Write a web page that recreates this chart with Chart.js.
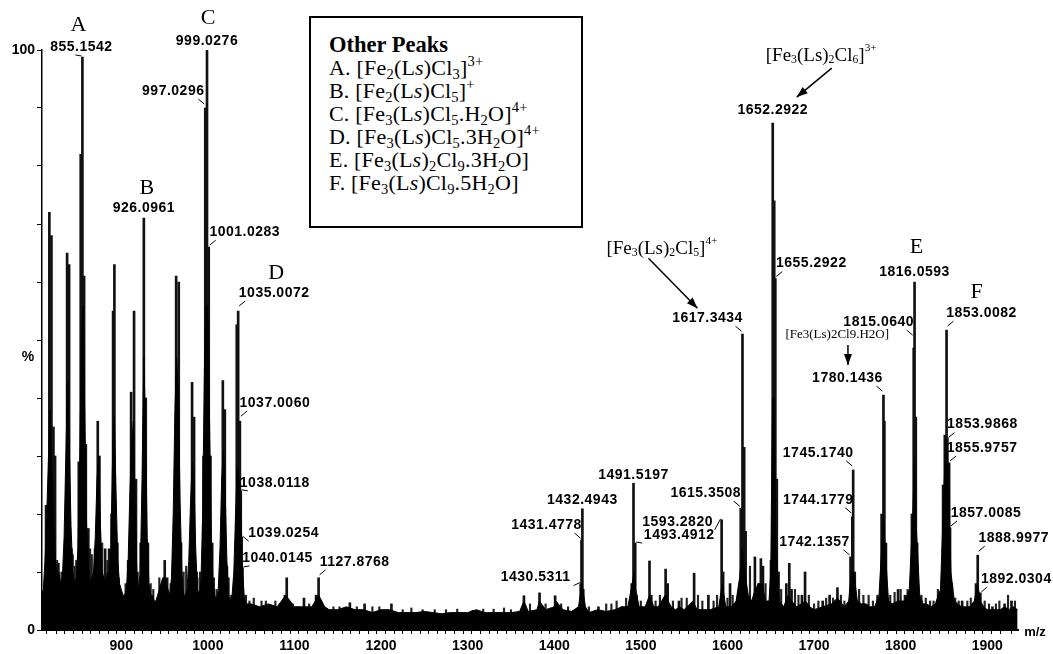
<!DOCTYPE html>
<html>
<head>
<meta charset="utf-8">
<script src="https://cdn.jsdelivr.net/npm/chart.js@4.4.1/dist/chart.umd.min.js"></script>
<style>
  html, body { margin: 0; padding: 0; background: #fff; }
  #wrap { position: relative; width: 1053px; height: 654px; }
  #legendBox {
    position: absolute; left: 309px; top: 16px; width: 274px; height: 212px;
    border: 2px solid #000; background: #fff;
    font-family: "Liberation Serif", "Times New Roman", serif; font-size: 22px;
    line-height: 23px; padding: 15px 0 0 18px; box-sizing: border-box; color: #000;
    letter-spacing: 0.2px;
  }
  #legendBox b { font-size: 22.5px; letter-spacing: 0; }
  #legendBox sub, #legendBox sup { font-size: 0.66em; line-height: 0; }
  #legendBox sub { vertical-align: -0.28em; }
  #legendBox sup { vertical-align: 0.62em; }
</style>
</head>
<body>
<div id="wrap">
  <canvas id="chart" width="1053" height="654"></canvas>
  <div id="legendBox">
    <b>Other Peaks</b><br>
    A. [Fe<sub>2</sub>(L<i>s</i>)Cl<sub>3</sub>]<sup>3+</sup><br>
    B. [Fe<sub>2</sub>(L<i>s</i>)Cl<sub>5</sub>]<sup>+</sup><br>
    C. [Fe<sub>3</sub>(L<i>s</i>)Cl<sub>5</sub>.H<sub>2</sub>O]<sup>4+</sup><br>
    D. [Fe<sub>3</sub>(L<i>s</i>)Cl<sub>5</sub>.3H<sub>2</sub>O]<sup>4+</sup><br>
    E. [Fe<sub>3</sub>(L<i>s</i>)<sub>2</sub>Cl<sub>9</sub>.3H<sub>2</sub>O]<br>
    F. [Fe<sub>3</sub>(L<i>s</i>)Cl<sub>9</sub>.5H<sub>2</sub>O]
  </div>
</div>
<script>
// m/z of the resolved peak lines and their relative intensity (%)
const peakMz = [
  813.2, 817.0, 819.4, 821.7, 823.6, 827.4,
  834.5, 837.5, 839.8, 842.5,
  851.0, 853.2, 855.1542, 857.1, 859.1, 862.0,
  869.8, 872.9, 874.8, 881.4, 886.0,
  888.9, 890.6, 892.1, 895.5,
  908.0, 911.4, 914.8, 917.0,
  922.5, 926.0961, 928.3, 930.8,
  947.0, 950.2, 953.0,
  961.0, 963.4, 966.4, 969.0,
  979.5, 981.8, 984.1, 987.0,
  995.0, 997.0296, 999.0276, 1001.0283, 1003.0, 1005.0,
  1015.0, 1017.3, 1019.6, 1022.0,
  1033.4, 1035.0072, 1037.0060, 1038.0118, 1039.0254, 1040.0145,
  1089.0, 1091.1, 1111.0, 1125.0, 1127.8768, 1130.0, 1164.0, 1181.0, 1212.0, 1306.0,
  1365.0, 1383.0, 1401.0,
  1430.5311, 1431.4778, 1432.4943, 1433.5, 1451.0, 1478.0,
  1489.5, 1491.5197, 1493.4912, 1495.0,
  1510.0, 1512.0, 1528.6, 1531.0, 1544.0, 1561.5, 1578.0,
  1593.2820, 1595.0, 1603.0,
  1615.3508, 1617.3434, 1619.3, 1621.0, 1631.7, 1636.0, 1638.6, 1641.0,
  1650.3, 1652.2922, 1654.0, 1655.2922, 1657.0, 1659.0,
  1668.0, 1671.4, 1674.0, 1686.0, 1689.6, 1710.0, 1718.0, 1727.0,
  1742.1357, 1744.1779, 1745.1740, 1747.0,
  1778.0, 1780.1436, 1781.2, 1783.0, 1797.0, 1805.0,
  1813.0, 1815.0640, 1816.0593, 1817.5, 1819.0,
  1849.0, 1851.0, 1853.0082, 1853.9868, 1855.9757, 1857.0085, 1859.0,
  1871.0, 1887.0, 1888.9977, 1892.0304, 1906.0, 1920.0, 1928.0
];
const peakPct = [
  21.5, 72, 68, 35, 30, 11.5,
  12, 65, 63, 14,
  29, 82, 98.8, 61, 32, 17.5,
  14, 36, 30, 14, 14,
  20, 55, 63, 15,
  12, 41, 55, 26,
  15, 71, 40, 15,
  8, 12, 9,
  15, 61, 60, 15,
  10, 42.7, 36.7, 10,
  30, 90, 100, 66, 30, 15,
  11, 43, 38, 11,
  52.6, 55, 36, 24, 16, 10.7,
  6, 9, 5.5, 6, 9, 5, 4.7, 4.5, 4.5, 3.4,
  5.9, 6.4, 5.9,
  8, 15.5, 20.9, 7, 4, 4,
  8, 25.3, 15, 6,
  11.9, 6, 10.5, 8, 5, 9.8, 6,
  19, 10, 8,
  21, 51, 31.5, 17, 12.6, 8, 12.3, 11,
  12, 87.4, 74, 60.6, 26, 10,
  8, 11.5, 7, 6, 10, 5, 6, 7.3,
  12.6, 19.5, 27.6, 10,
  20, 40.5, 36, 15, 7, 6,
  20, 48.6, 60, 36.7, 15,
  25, 33.6, 51.7, 33, 28.8, 17.6, 8,
  5, 8, 12.9, 6.4, 4, 4.5, 5
];

// small noise spikes over the baseline
const noiseMz = [
  826, 831, 844, 846, 848, 864, 866, 878, 884, 897, 905, 919, 934, 937, 944, 957,
  972, 975, 988, 991, 1007, 1010, 1024, 1027, 1044, 1048, 1053, 1062, 1067, 1078,
  1083, 1098, 1104, 1117, 1145, 1152, 1172, 1190, 1198, 1225, 1235, 1248, 1262,
  1275, 1288, 1318, 1330, 1342, 1350, 1372, 1390, 1408, 1416, 1440, 1460, 1466,
  1472, 1483, 1500, 1517, 1522, 1537, 1547, 1553, 1566, 1571, 1584, 1588, 1600,
  1606, 1626, 1644, 1662, 1678, 1682, 1694, 1700, 1705, 1714, 1722, 1731, 1735,
  1752, 1757, 1763, 1768, 1773, 1788, 1793, 1800, 1808, 1824, 1829, 1834, 1838,
  1843, 1863, 1867, 1877, 1881, 1897, 1902, 1910, 1914, 1924, 1932
];
const noisePct = [
  12, 10, 13, 11, 12, 14, 13, 15, 12, 9, 8, 10, 8, 7, 9, 8,
  10, 11, 9, 10, 9, 7, 9, 6, 6, 5, 5.5, 5, 5, 5,
  4.5, 4.5, 4, 4.5, 4, 4, 4, 4, 4, 3.5, 3.8, 3.5, 3.5,
  3.5, 3.6, 3.6, 3.6, 3.8, 3.5, 4.5, 4.5, 4.5, 4, 4, 4.5, 4.5,
  5, 5.5, 5, 5, 6, 5, 5.5, 5.5, 6, 5, 5, 6, 5.5,
  6, 11, 8, 7, 7, 6, 6, 4.5, 5, 5.5, 5.5, 6, 5,
  7, 6, 6, 5, 6, 6, 6.5, 7, 7, 6, 5.5, 5, 5,
  7, 5.5, 5, 5, 5.5, 5, 4.5, 4.5, 5, 6, 5
];

// filled envelope of the unresolved signal
const envMz = [
  808, 810, 812, 814, 816, 818, 820, 822, 824, 826, 828, 830, 832, 834, 836, 838, 840, 842, 844, 846,
  848, 850, 852, 854, 856, 858, 860, 862, 864, 866, 868, 870, 872, 874, 876, 878, 880, 882, 884, 886,
  888, 890, 892, 894, 896, 898, 900, 902, 904, 906, 908, 910, 912, 914, 916, 918, 920, 922, 924, 926,
  928, 930, 932, 934, 936, 938, 940, 942, 944, 946, 948, 950, 952, 954, 956, 958, 960, 962, 964, 966,
  968, 970, 972, 974, 976, 978, 980, 982, 984, 986, 988, 990, 992, 994, 996, 998, 1000, 1002, 1004, 1006,
  1008, 1010, 1012, 1014, 1016, 1018, 1020, 1022, 1024, 1026, 1028, 1030, 1032, 1034, 1036, 1038, 1040, 1042, 1044,
  1050, 1060, 1070, 1080, 1090, 1100, 1110, 1120, 1128, 1135, 1140, 1150, 1160, 1170, 1180, 1190, 1200,
  1210, 1220, 1230, 1240, 1250, 1260, 1270, 1280, 1290, 1300, 1310, 1320, 1330, 1340, 1350, 1360, 1365,
  1370, 1380, 1383, 1390, 1400, 1402, 1410, 1420, 1428, 1432, 1436, 1440, 1450, 1460, 1470, 1478, 1485,
  1490, 1492, 1494, 1498, 1505, 1510, 1515, 1520, 1528, 1535, 1540, 1545, 1550, 1560, 1565, 1570, 1580,
  1590, 1594, 1598, 1605, 1610, 1614, 1617, 1620, 1624, 1628, 1632, 1636, 1640, 1644, 1648, 1650, 1652,
  1654, 1656, 1660, 1665, 1670, 1674, 1680, 1690, 1695, 1700, 1710, 1720, 1727, 1735, 1740, 1743, 1746,
  1750, 1755, 1760, 1765, 1770, 1775, 1778, 1780, 1783, 1786, 1790, 1797, 1805, 1810, 1814, 1816, 1818,
  1822, 1826, 1830, 1835, 1840, 1846, 1849, 1852, 1855, 1858, 1862, 1866, 1870, 1875, 1880, 1885, 1889,
  1892, 1896, 1900, 1905, 1910, 1915, 1920, 1925, 1930, 1935
];
const envPct = [
  6, 7, 12, 20, 30, 38, 28, 18, 12, 9, 10, 8, 9, 16, 30, 43, 32, 18, 10, 8,
  9, 14, 28, 50, 56, 36, 18, 11, 8, 9, 10, 16, 26, 30, 18, 10, 9, 8, 10, 9,
  14, 30, 37, 24, 12, 8, 7, 6, 6, 7, 12, 24, 32, 36, 22, 10, 7, 10, 26, 47,
  36, 16, 8, 6, 6, 5, 5, 6, 7, 8, 9, 9, 8, 7, 6, 9, 20, 38, 47, 40,
  22, 10, 6, 6, 7, 12, 22, 29, 26, 14, 7, 6, 8, 20, 45, 56, 56, 36, 16, 8,
  6, 5, 7, 14, 26, 31, 24, 12, 6, 5, 6, 10, 20, 28, 26, 18, 10, 6, 4.5,
  4.5, 4, 4.5, 4, 6, 4, 4, 4, 6, 4, 3.5, 3.5, 4, 3.5, 3.5, 3, 3.5,
  3.5, 3, 3, 3, 3.2, 3, 2.8, 3, 3, 3, 3.5, 3, 3, 3, 3, 3.2, 5,
  3.2, 3.5, 5, 3.5, 4, 5, 3.5, 3.2, 4, 8, 4, 3, 3.5, 3.2, 3.5, 4, 4,
  8, 10, 7, 4, 4, 6, 4, 4, 6, 4, 3.5, 4, 3.5, 5, 3.5, 3.5, 3.5,
  4, 8, 4, 4, 5, 9, 14, 10, 6, 5, 7, 8, 8, 5, 5, 10, 40,
  40, 14, 5, 4, 6, 5, 4, 5, 4, 3.5, 4, 4.5, 5.5, 4, 5, 10, 10,
  5, 4.5, 4.5, 4, 4, 6, 14, 20, 12, 5, 4.5, 5, 5, 7, 20, 30, 18,
  6, 4.5, 4.5, 4, 4.5, 7, 20, 33, 28, 10, 5, 4.5, 4, 4, 4, 5, 8,
  5, 4, 3.5, 3.5, 3.5, 3.5, 4, 3.5, 4, 3.5
];

// axis range and tick labels
const xMin = 808.5, xMax = 1935.5;
const xTickLabels = [900, 1000, 1100, 1200, 1300, 1400, 1500, 1600, 1700, 1800, 1900];
const yTickLabels = [0, 100];

// labelled peaks: m/z (must be in peakMz) and printed text
const labelMz = [
  855.1542, 999.0276, 997.0296, 926.0961, 1001.0283, 1035.0072, 1037.0060, 1038.0118, 1039.0254, 1040.0145,
  1127.8768, 1430.5311, 1431.4778, 1432.4943, 1491.5197, 1493.4912, 1593.2820, 1615.3508, 1617.3434,
  1652.2922, 1655.2922, 1742.1357, 1744.1779, 1745.1740, 1780.1436, 1815.0640, 1816.0593,
  1853.0082, 1853.9868, 1855.9757, 1857.0085, 1888.9977, 1892.0304
];
const labelText = [
  '855.1542', '999.0276', '997.0296', '926.0961', '1001.0283', '1035.0072', '1037.0060', '1038.0118', '1039.0254', '1040.0145',
  '1127.8768', '1430.5311', '1431.4778', '1432.4943', '1491.5197', '1493.4912', '1593.2820', '1615.3508', '1617.3434',
  '1652.2922', '1655.2922', '1742.1357', '1744.1779', '1745.1740', '1780.1436', '1815.0640', '1816.0593',
  '1853.0082', '1853.9868', '1855.9757', '1857.0085', '1888.9977', '1892.0304'
];
// letter tags A-F sit above these labels
const letterMz = [855.1542, 926.0961, 999.0276, 1035.0072, 1816.0593, 1853.0082];
const letters = ['A', 'B', 'C', 'D', 'E', 'F'];

// label placement (px offsets of the label centre from the peak top)
const labelOffsets = [
  [-1, -10], [0, -9], [-32, -17], [0, -10], [36, -15], [36, -18], [35, -18], [34, -8], [42, -4], [35, -10],
  [36, -16], [-45, -6], [-35, -15], [0, -9], [0, -8], [44, -8], [-44, 2], [-35, -15], [-35, -16],
  [0, -13], [36, -15], [-36, -15], [-34, -17], [-35, -17], [-36, -17], [-35, -26], [0, -10],
  [35, -17], [35, -14], [33, -15], [36, -15], [36, -17], [36, -14]
];
const letterOffsets = [[-3, -22], [3, -20], [1, -23], [2, -20], [2, -25], [-5, -21]];

function pctOf(mz) { return peakPct[peakMz.indexOf(mz)]; }

const sticks = peakMz.map((m, i) => ({ x: m, y: peakPct[i] }));
const noise = noiseMz.map((m, i) => ({ x: m, y: noisePct[i] }));
const envelope = envMz.map((m, i) => ({ x: m, y: envPct[i] }));

function drawRich(ctx, x, y, segs, size) {
  let cx = x;
  ctx.textBaseline = 'alphabetic';
  ctx.textAlign = 'left';
  segs.forEach(s => {
    const [t, kind] = s;
    let fs = size, dy = 0;
    if (kind === 'sub') { fs = size * 0.62; dy = size * 0.1; }
    if (kind === 'sup') { fs = size * 0.6; dy = -size * 0.55; }
    ctx.font = fs + 'px "Liberation Serif", "Times New Roman", serif';
    ctx.fillText(t, cx, y + dy);
    cx += ctx.measureText(t).width;
  });
}

function arrow(ctx, x1, y1, x2, y2) {
  ctx.beginPath();
  ctx.moveTo(x1, y1);
  ctx.lineTo(x2, y2);
  ctx.lineWidth = 1.5;
  ctx.stroke();
  const a = Math.atan2(y2 - y1, x2 - x1), L = 11, W = 4;
  ctx.beginPath();
  ctx.moveTo(x2, y2);
  ctx.lineTo(x2 - L * Math.cos(a) + W * Math.sin(a), y2 - L * Math.sin(a) - W * Math.cos(a));
  ctx.lineTo(x2 - L * Math.cos(a) - W * Math.sin(a), y2 - L * Math.sin(a) + W * Math.cos(a));
  ctx.closePath();
  ctx.fill();
}

const annotatePlugin = {
  id: 'annotate',
  afterDraw(chart) {
    const ctx = chart.ctx, xs = chart.scales.x, ys = chart.scales.y;
    const top = mz => [xs.getPixelForValue(mz), ys.getPixelForValue(pctOf(mz))];
    ctx.save();
    ctx.fillStyle = '#000';
    ctx.strokeStyle = '#000';

    // peak labels with short leader lines
    ctx.font = 'bold 14px "Liberation Sans", Arial, sans-serif';
    ctx.letterSpacing = '0.5px';
    ctx.textAlign = 'center';
    ctx.textBaseline = 'middle';
    labelMz.forEach((mz, i) => {
      const [px, py] = top(mz);
      const [dx, dy] = labelOffsets[i];
      ctx.fillText(labelText[i], px + dx, py + dy);
      if (dx !== 0) {
        const s = Math.sign(dx);
        ctx.beginPath();
        ctx.lineWidth = 1;
        ctx.moveTo(px + s * 7, py + dy + 8);
        ctx.lineTo(px + s * 1, py - 1 + Math.min(0, dy + 14));
        ctx.stroke();
      }
    });
    ctx.letterSpacing = '0px';

    // letters A-F
    ctx.font = '22px "Liberation Serif", "Times New Roman", serif';
    letterMz.forEach((mz, i) => {
      const [px, py] = top(mz);
      const li = labelMz.indexOf(mz);
      const [dx, dy] = labelOffsets[li];
      const [ldx, ldy] = letterOffsets[i];
      ctx.fillText(letters[i], px + dx + ldx, py + dy + ldy);
    });

    // species annotations with arrows
    let [px, py] = top(1652.2922);
    drawRich(ctx, px - 7, py - 62, [['[Fe'], ['3', 'sub'], ['(Ls)'], ['2', 'sub'], ['Cl'], ['6', 'sub'], [']'], ['3+', 'sup']], 19);
    arrow(ctx, px + 59, py - 55, px + 24, py - 26);

    [px, py] = top(1617.3434);
    drawRich(ctx, px - 136, py - 80, [['[Fe'], ['3', 'sub'], ['(Ls)'], ['2', 'sub'], ['Cl'], ['5', 'sub'], [']'], ['4+', 'sup']], 19);
    arrow(ctx, px - 94, py - 76, px - 45, py - 26);

    [px, py] = top(1780.1436);
    drawRich(ctx, px - 98, py - 57, [['[Fe3(Ls)2Cl9.H2O]']], 13);
    arrow(ctx, px - 35.5, py - 50, px - 35.5, py - 30);

    // axis titles
    ctx.font = 'bold 14px "Liberation Sans", Arial, sans-serif';
    ctx.textAlign = 'center';
    ctx.textBaseline = 'middle';
    ctx.fillText('%', 28, ys.getPixelForValue(47));
    ctx.font = 'bold 13px "Liberation Sans", Arial, sans-serif';
    ctx.fillText('m/z', xs.right + 17, ys.getPixelForValue(0) + 2);
    ctx.restore();
  }
};

new Chart(document.getElementById('chart'), {
  type: 'line',
  data: {
    datasets: [
      {
        type: 'line', data: envelope, borderColor: '#000', backgroundColor: '#000',
        borderWidth: 1, pointRadius: 0, fill: 'origin', tension: 0
      },
      {
        type: 'bar', data: sticks, backgroundColor: '#111', barThickness: 2, grouped: false
      },
      {
        type: 'bar', data: noise, backgroundColor: '#222', barThickness: 1.5, grouped: false
      }
    ]
  },
  options: {
    responsive: false,
    animation: false,
    events: [],
    layout: { padding: { top: 50, right: 35, left: 0, bottom: 0 } },
    plugins: { legend: { display: false }, tooltip: { enabled: false } },
    scales: {
      x: {
        type: 'linear', min: xMin, max: xMax, offset: false,
        grid: { drawOnChartArea: false, drawTicks: true, tickLength: 4, color: '#000' },
        border: { color: '#000', width: 2 },
        ticks: {
          stepSize: 10, autoSkip: false, maxRotation: 0, padding: 4, color: '#000',
          font: { family: '"Liberation Sans", Arial, sans-serif', size: 14, weight: 'bold' },
          callback: v => xTickLabels.includes(Math.round(v)) && Math.abs(v - Math.round(v)) < 0.01 ? String(Math.round(v)) : ''
        },
        afterFit: s => { s.height = 24; }
      },
      y: {
        min: 0, max: 100,
        grid: { drawOnChartArea: false, drawTicks: true, tickLength: 5, color: '#000' },
        border: { color: '#000', width: 1.5 },
        ticks: {
          stepSize: 10, autoSkip: false, padding: 2, color: '#000',
          font: { family: '"Liberation Sans", Arial, sans-serif', size: 14, weight: 'bold' },
          callback: v => yTickLabels.includes(v) ? String(v) : ''
        },
        afterFit: s => { s.width = 42; }
      }
    }
  },
  plugins: [annotatePlugin]
});
</script>
</body>
</html>
